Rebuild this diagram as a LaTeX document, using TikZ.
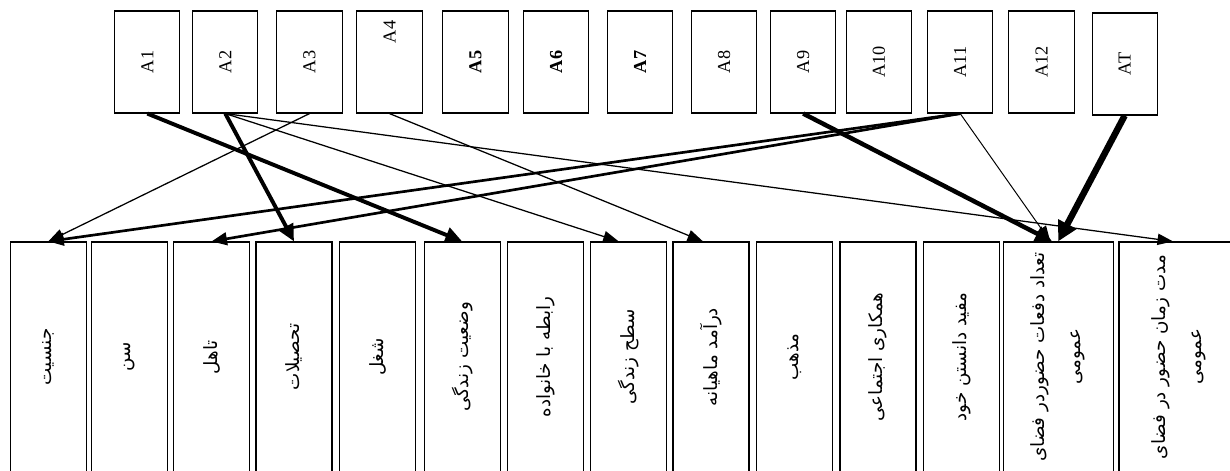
\documentclass[tikz,border=0pt]{standalone}
\usepackage{fontspec}
\setmainfont{Liberation Serif}
\newfontfamily\farsi[Script=Arabic]{DejaVu Sans}
\TeXXeTstate=1
\usetikzlibrary{arrows.meta}
\newcommand{\uptext}[1]{\rotatebox{90}{#1}}

\begin{document}
\begin{tikzpicture}[x=0.025cm, y=-0.025cm,
    topbox/.style={draw, line width=0.8pt, minimum width=1.63cm, minimum height=2.55cm, inner sep=0pt, font=\fontsize{13}{15}\selectfont},
    varbox/.style={draw, line width=0.8pt, minimum width=1.9cm, minimum height=5.75cm, inner sep=0pt, font=\farsi\fontsize{13}{16}\selectfont},
    thinlink/.style={-{Triangle[length=11pt,width=8pt]}, line width=0.9pt},
    midlink/.style={-{Triangle[length=11pt,width=9pt]}, line width=1.9pt},
    heavylink/.style={-{Triangle[length=12pt,width=11pt]}, line width=2.8pt}]
    \useasboundingbox (0,0) rectangle (1230,471);
    \node[topbox] (a1) at (147.3,62) {\uptext{A1}};
    \node[topbox] (a2) at (225.3,62) {\uptext{A2}};
    \node[topbox] (a3) at (309.5,62) {\uptext{A3}};
    \node[topbox] (a4) at (389.5,62) {\uptext{\hspace{1.5cm}A4}};
    \node[topbox] (a5) at (475.5,62) {\uptext{\textbf{A5}}};
    \node[topbox] (a6) at (556.2,62) {\uptext{\textbf{A6}}};
    \node[topbox] (a7) at (640,62) {\uptext{\textbf{A7}}};
    \node[topbox] (a8) at (724.2,62) {\uptext{A8}};
    \node[topbox] (a9) at (803.2,62) {\uptext{A9}};
    \node[topbox] (a10) at (879,62) {\uptext{A10}};
    \node[topbox] (a11) at (960.2,62) {\uptext{A11}};
    \node[topbox] (a12) at (1041.5,62) {\uptext{A12}};
    \node[topbox] (aT) at (1124.7,64) {\uptext{AT}};
    \node[varbox] (b1) at (48.3,357) {\uptext{\beginR جنسیت\endR}};
    \node[varbox] (b2) at (129.8,357) {\uptext{\beginR سن\endR}};
    \node[varbox] (b3) at (211.5,357) {\uptext{\beginR تاهل\endR}};
    \node[varbox] (b4) at (294,357) {\uptext{\beginR تحصیلات\endR}};
    \node[varbox] (b5) at (377.7,357) {\uptext{\beginR شغل\endR}};
    \node[varbox] (b6) at (462.2,357) {\uptext{\beginR وضعیت زندگی\endR}};
    \node[varbox] (b7) at (545.3,357) {\uptext{\beginR رابطه با خانواده\endR}};
    \node[varbox] (b8) at (628.7,357) {\uptext{\beginR سطح زندگی\endR}};
    \node[varbox] (b9) at (711,357) {\uptext{\beginR درآمد ماهیانه\endR}};
    \node[varbox] (b10) at (794.7,357) {\uptext{\beginR مذهب\endR}};
    \node[varbox] (b11) at (878,357) {\uptext{\beginR همکاری اجتماعی\endR}};
    \node[varbox] (b12) at (961.7,357) {\uptext{\beginR مفید دانستن خود\endR}};
    \node[varbox, minimum width=2.75cm] (b13) at (1058.2,357) {\uptext{\begin{tabular}{@{}c@{}}\beginR تعداد دفعات حضوردر فضای\endR\\[10pt]\beginR عمومی\endR\end{tabular}}};
    \node[varbox, minimum width=3cm] (b14) at (1179,357) {\uptext{\begin{tabular}{@{}c@{}}\beginR مدت زمان حضور در فضای\endR\\[10pt]\beginR عمومی\endR\end{tabular}}};
    \draw[heavylink] (a1.south) -- (b6.north);
    \draw[heavylink] (a2.south) -- (b4.north);
    \draw[thinlink] (a2.south) -- ([xshift=-0.25cm]b8.north);
    \draw[thinlink] (a2.south) -- ([xshift=-0.15cm]b14.north);
    \draw[thinlink] (a3.south) -- (b1.north);
    \draw[thinlink] (a4.south) -- ([xshift=-0.2cm]b9.north);
    \draw[midlink] (a11.south) -- (b1.north);
    \draw[midlink] (a11.south) -- (b3.north);
    \draw[thinlink, line width=0.7pt] (a11.south) -- ([xshift=-0.2cm]b13.north);
    \draw[heavylink, line width=3.2pt] (a9.south) -- ([xshift=-0.15cm]b13.north);
    \draw[-{Triangle[length=14pt,width=14pt]}, line width=4.6pt] (aT.south) -- (b13.north);
\end{tikzpicture}
\end{document}
